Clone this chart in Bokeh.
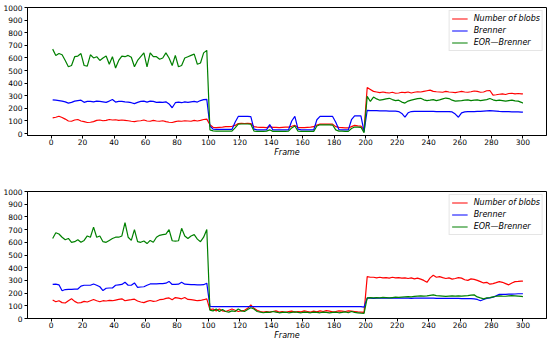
from bokeh.plotting import figure
from bokeh.layouts import column
from bokeh.models import Range1d, FixedTicker, Legend, LegendItem
from bokeh.embed import file_html
from bokeh.resources import INLINE

frames = list(range(1, 300, 2)) + [300]
x_ticks = list(range(0, 301, 20))
y_ticks = list(range(0, 1001, 100))

top_blobs = [125,130,138,128,115,100,98,108,112,100,
             95,88,90,95,105,108,102,105,112,108,
             110,105,108,105,102,98,95,100,102,108,
             100,98,105,100,98,102,95,90,88,95,
             100,98,102,100,98,105,100,105,112,115,
             70,50,48,50,52,55,55,58,65,80,
             82,80,82,80,55,52,50,50,48,55,
             50,50,48,50,52,52,58,65,50,48,
             48,50,52,55,68,75,75,75,76,75,
             55,50,48,45,45,55,65,62,60,30,
             365,350,335,330,325,330,325,322,328,320,
             322,328,325,330,322,328,332,330,335,340,
             345,335,332,330,328,335,330,328,325,330,
             335,330,328,332,338,335,328,330,340,342,
             305,308,312,315,310,318,320,315,318,315,
             315]
top_brenner = [268,265,262,258,252,242,248,258,262,265,
               248,255,255,252,258,255,252,248,258,270,
               250,255,255,252,250,245,238,248,255,258,
               250,258,255,248,250,248,252,235,205,245,
               250,245,252,248,252,255,250,262,270,272,
               60,35,33,33,33,33,33,33,90,136,
               137,137,137,135,35,30,30,30,30,72,
               30,30,30,30,30,30,100,137,35,30,
               30,30,30,30,110,137,137,137,137,136,
               90,32,30,30,30,110,140,140,140,15,
               185,183,183,182,180,180,180,179,178,178,
               175,160,130,165,175,177,177,176,176,176,
               176,176,175,175,175,175,175,172,155,130,
               165,172,174,175,175,176,176,178,180,182,
               180,178,176,175,175,174,173,172,172,170,
               170]
top_eor = [670,620,635,625,580,530,540,610,615,635,
           540,535,625,600,610,580,600,615,550,610,
           520,580,615,610,620,605,530,580,610,640,
           530,640,610,610,590,600,640,600,540,620,
           530,540,600,610,620,630,550,560,640,660,
           30,22,20,20,20,20,20,20,45,75,
           76,76,76,74,20,18,18,18,20,30,
           18,18,18,18,18,20,45,60,20,18,
           18,18,18,18,60,70,70,70,70,68,
           30,20,20,18,18,40,52,52,50,8,
           295,255,290,275,265,270,275,280,270,262,
           265,250,242,258,265,272,278,280,268,262,
           265,270,262,268,275,282,278,265,258,260,
           262,265,268,262,265,268,262,266,270,278,
           268,262,265,262,258,262,265,260,258,248,
           242]

bot_blobs = [145,132,140,125,122,140,155,135,122,125,
             135,130,140,150,140,132,140,138,142,140,
             145,150,155,140,145,148,152,138,130,125,
             135,142,135,138,148,150,158,162,148,165,
             160,155,165,150,148,145,140,142,148,155,
             70,75,60,75,60,55,65,75,65,55,
             60,65,80,106,80,65,55,50,55,50,
             55,60,50,55,48,55,58,50,55,52,
             60,55,50,58,52,60,55,62,58,52,
             55,60,58,55,60,58,55,52,50,48,
             330,325,325,320,325,320,322,318,325,320,
             322,318,320,315,320,312,318,310,300,285,
             320,340,325,330,322,315,320,310,315,322,
             318,305,300,312,308,300,290,280,285,270,
             275,282,290,285,275,265,280,290,292,295,
             295]
bot_brenner = [268,270,265,218,228,230,230,232,232,255,
               262,262,262,272,262,250,220,238,240,240,
               262,265,268,285,262,262,280,245,248,250,
               262,272,272,272,274,275,278,292,268,268,
               270,285,270,268,266,266,265,265,266,278,
               95,94,94,94,94,94,94,94,94,94,
               94,94,94,94,94,94,94,94,94,94,
               94,94,94,94,94,94,94,94,94,94,
               94,94,94,94,94,94,94,94,94,94,
               94,94,94,94,94,94,94,94,94,90,
               160,160,159,160,160,161,160,160,160,160,
               160,160,160,160,159,160,160,160,160,160,
               160,160,159,159,158,158,158,158,158,158,
               157,157,157,156,155,150,140,150,158,162,
               168,178,190,190,190,192,192,193,195,195,
               195]
bot_eor = [630,675,665,640,620,630,600,605,620,600,
           615,650,640,720,640,650,605,600,615,630,
           640,640,650,755,640,615,700,605,600,610,
           590,615,600,640,655,660,665,700,612,610,
           612,710,650,630,650,660,625,605,640,700,
           65,60,75,55,70,55,50,60,55,75,
           60,55,70,85,75,55,50,45,50,48,
           55,50,45,48,50,45,48,52,48,45,
           50,48,45,50,48,45,50,48,45,48,
           50,45,48,52,45,55,48,45,42,40,
           162,165,163,165,163,166,164,162,165,168,
           166,168,170,172,170,174,176,178,176,178,
           182,186,180,178,176,174,176,178,176,178,
           176,178,180,184,186,170,162,155,162,165,
           170,175,178,176,175,178,180,178,176,174,
           172]

series_names = ["Number of blobs", "Brenner", "EOR\u2014Brenner"]
series_colors = ["#ff0000", "#0000ff", "#008000"]


def make_plot(blobs, brenner, eor, frame_h, ystart, top_border, bottom_border):
    p = figure(frame_width=519, frame_height=frame_h,
               output_backend="svg", toolbar_location=None,
               x_range=Range1d(-15, 315), y_range=Range1d(ystart, 1000),
               min_border_left=26, min_border_right=4,
               min_border_top=top_border, min_border_bottom=bottom_border,
               border_fill_color="white")
    items = []
    for vals, name, col in zip([blobs, brenner, eor], series_names, series_colors):
        r = p.line(frames, vals, line_color=col, line_width=1.2)
        items.append(LegendItem(label=name, renderers=[r]))
    p.xgrid.visible = False
    p.ygrid.visible = False
    p.outline_line_color = "black"
    p.outline_line_width = 1
    p.outline_line_alpha = 1
    p.xaxis.ticker = FixedTicker(ticks=x_ticks)
    p.yaxis.ticker = FixedTicker(ticks=y_ticks)
    p.xaxis.axis_label = "Frame"
    p.xaxis.axis_label_text_font_style = "italic"
    p.xaxis.axis_label_text_font = "DejaVu Sans"
    p.xaxis.axis_label_text_font_size = "8px"
    p.xaxis.axis_label_text_color = "black"
    p.xaxis.axis_label_standoff = 0
    for ax in (p.xaxis[0], p.yaxis[0]):
        ax.major_label_text_font = "DejaVu Sans"
        ax.major_label_text_font_size = "7.5px"
        ax.major_label_text_color = "black"
        ax.major_label_standoff = 0
        ax.major_tick_in = 0
        ax.major_tick_out = 3
        ax.minor_tick_in = 0
        ax.minor_tick_out = 0
        ax.axis_line_color = "black"
        ax.major_tick_line_color = "black"
    p.yaxis.major_label_standoff = 2
    lg = Legend(items=items, location="top_right")
    lg.margin = 3
    lg.padding = 2
    lg.spacing = 1
    lg.label_text_font = "DejaVu Sans"
    lg.label_text_font_style = "italic"
    lg.label_text_font_size = "8px"
    lg.label_text_color = "black"
    lg.label_height = 11
    lg.glyph_height = 11
    lg.glyph_width = 16
    lg.label_standoff = 6
    lg.border_line_color = "#cccccc"
    lg.border_line_width = 1
    lg.background_fill_alpha = 0.8
    p.add_layout(lg)
    return p


p1 = make_plot(top_blobs, top_brenner, top_eor, 128, -15, 7, 48)
p2 = make_plot(bot_blobs, bot_brenner, bot_eor, 127, 0, 8, 22)
layout = column(p1, p2, spacing=0)

open("out.html", "w").write(file_html(layout, INLINE))
